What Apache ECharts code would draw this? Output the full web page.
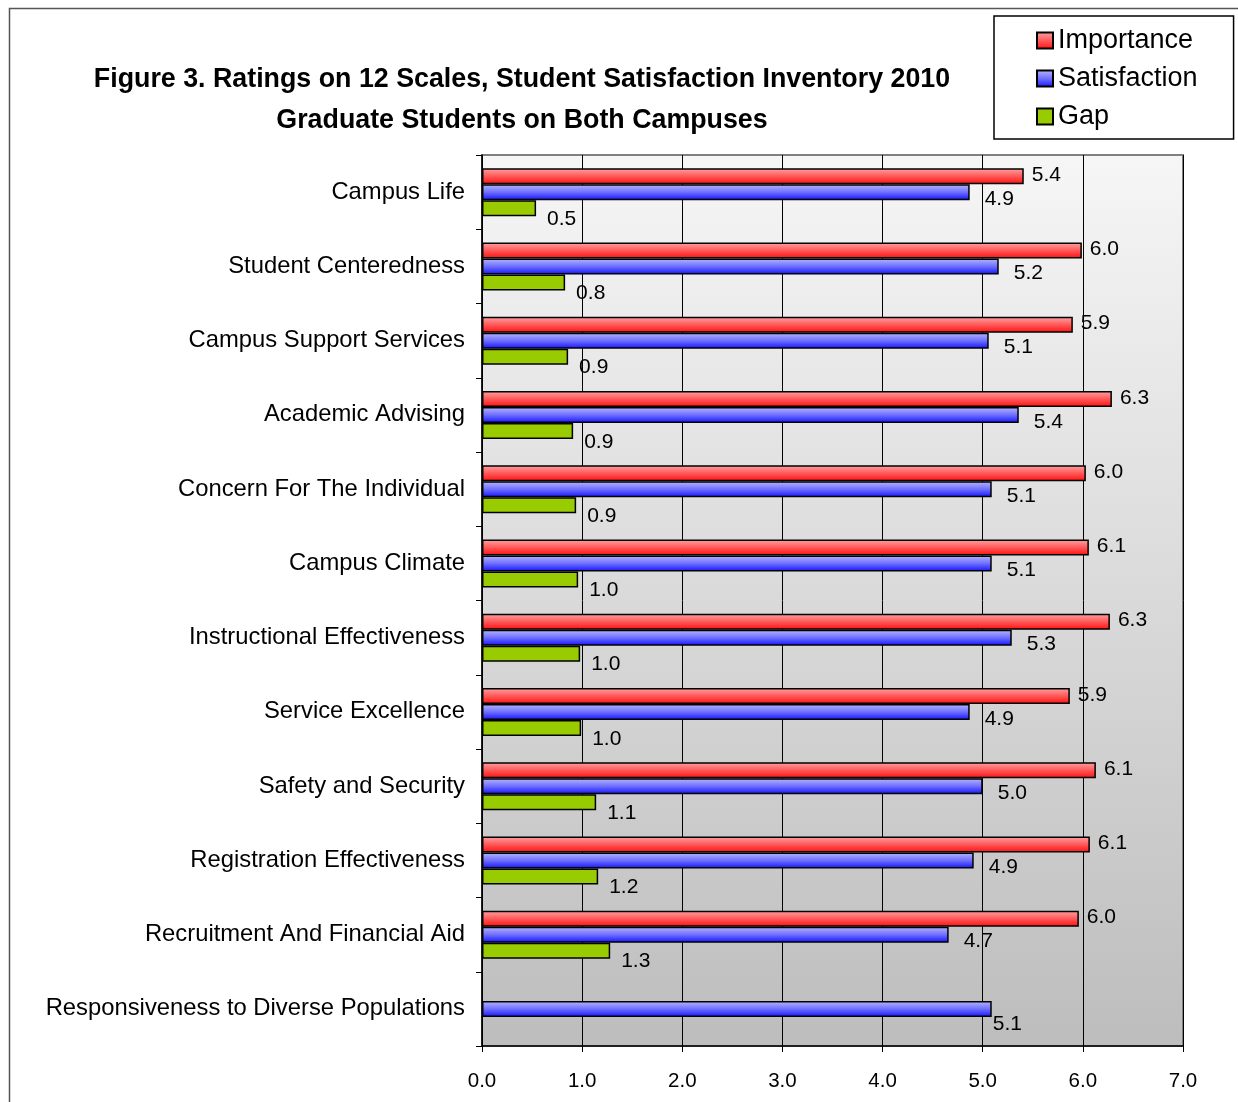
<!DOCTYPE html>
<html>
<head>
<meta charset="utf-8">
<script src="https://cdn.jsdelivr.net/npm/echarts@6/dist/echarts.min.js"></script>
<style>html,body{margin:0;padding:0;background:#fff;}#c{width:1238px;height:1102px;}</style>
</head>
<body>
<div id="c"></div>
<script>
const categories = ['Campus Life','Student Centeredness','Campus Support Services','Academic Advising','Concern For The Individual','Campus Climate','Instructional Effectiveness','Service Excellence','Safety and Security','Registration Effectiveness','Recruitment And Financial Aid','Responsiveness to Diverse Populations'];
const importance = [5.41, 5.99, 5.90, 6.29, 6.03, 6.06, 6.27, 5.87, 6.13, 6.07, 5.96, null];
const satisfaction = [4.87, 5.16, 5.06, 5.36, 5.09, 5.09, 5.29, 4.87, 5.00, 4.91, 4.66, null];
const gap = [0.54, 0.83, 0.86, 0.91, 0.94, 0.96, 0.98, 0.99, 1.14, 1.16, 1.28, null];
const satisfactionOnly = [null, null, null, null, null, null, null, null, null, null, null, 5.09];
const xTicks = [0, 1, 2, 3, 4, 5, 6, 7];

const chart = echarts.init(document.getElementById('c'));
const G = echarts.graphic.LinearGradient;
const redFill = new G(0,0,0,1,[{offset:0,color:'#ffa4a4'},{offset:0.5,color:'#ff5a5a'},{offset:1,color:'#ff1010'}]);
const blueFill = new G(0,0,0,1,[{offset:0,color:'#b8b8ff'},{offset:0.5,color:'#7070ff'},{offset:1,color:'#1414ff'}]);
const font = 'Liberation Sans, Arial, sans-serif';
const toD = a => a.map(v => v == null ? '-' : v);
const lbl = (off) => ({show:true, position:'right', distance:5, offset:off, color:'#000', fontSize:21, fontFamily:font, formatter: p => Number(p.value).toFixed(1)});
const border = {borderColor:'#000', borderWidth:1.5};

chart.setOption({
  animation:false,
  backgroundColor:'#fff',
  title:{
    text:'Figure 3. Ratings on 12 Scales, Student Satisfaction Inventory 2010\nGraduate Students on Both Campuses',
    left:517, top:54, textAlign:'center',
    textStyle:{fontSize:26.8, fontWeight:'bold', fontFamily:font, color:'#000', lineHeight:41}
  },
  legend:{
    data:['Importance','Satisfaction','Gap'],
    orient:'vertical', left:994, top:16,
    padding:[11,36,9,42], itemGap:11, itemWidth:16, itemHeight:16, itemTextGap:9,
    icon:'rect', backgroundColor:'#fff', borderColor:'#000', borderWidth:1.5,
    textStyle:{fontSize:27, fontFamily:font, color:'#000'}
  },
  graphic:[{type:'rect', z:-10, silent:true, shape:{x:9.5, y:8.5, width:1240, height:1200}, style:{fill:'none', stroke:'#555', lineWidth:1.5}}],
  grid:{left:482, right:55, top:155, bottom:56, show:true, borderColor:'#808080', borderWidth:2,
    backgroundColor:new G(0,0,0,1,[{offset:0,color:'#f6f6f6'},{offset:1,color:'#bdbdbd'}])},
  xAxis:{type:'value', min:0, max:7, interval:1,
    axisLine:{show:true, lineStyle:{color:'#000', width:1.5}},
    axisTick:{show:true, length:6, lineStyle:{color:'#000'}},
    splitLine:{show:true, lineStyle:{color:'#000', width:1}},
    axisLabel:{margin:25, fontSize:20.5, fontFamily:font, color:'#000', formatter: v => xTicks.includes(v) ? v.toFixed(1) : ''}
  },
  yAxis:[{type:'category', data:categories, inverse:true,
    axisLine:{show:true, lineStyle:{color:'#000', width:1.5}},
    axisTick:{show:true, length:6, lineStyle:{color:'#000'}},
    axisLabel:{margin:17, fontSize:23.8, fontFamily:font, color:'#000'}
  },{type:'category', data:categories, inverse:true, show:false}],
  series:[
    {name:'Importance', type:'bar', data:toD(importance), barWidth:16, barGap:'0%', itemStyle:Object.assign({color:redFill}, border), label:lbl([3,-1])},
    {name:'Satisfaction', type:'bar', data:toD(satisfaction), barWidth:16, barGap:'0%', itemStyle:Object.assign({color:blueFill}, border), label:lbl([10,7])},
    {name:'Gap', type:'bar', data:toD(gap), barWidth:16, barGap:'0%', itemStyle:Object.assign({color:'#99cc00'}, border), label:lbl([6,11])},
    {name:'Satisfaction', type:'bar', yAxisIndex:1, data:toD(satisfactionOnly), barWidth:16, itemStyle:Object.assign({color:blueFill}, border), label:lbl([-4,15])}
  ]
});
</script>
</body>
</html>
